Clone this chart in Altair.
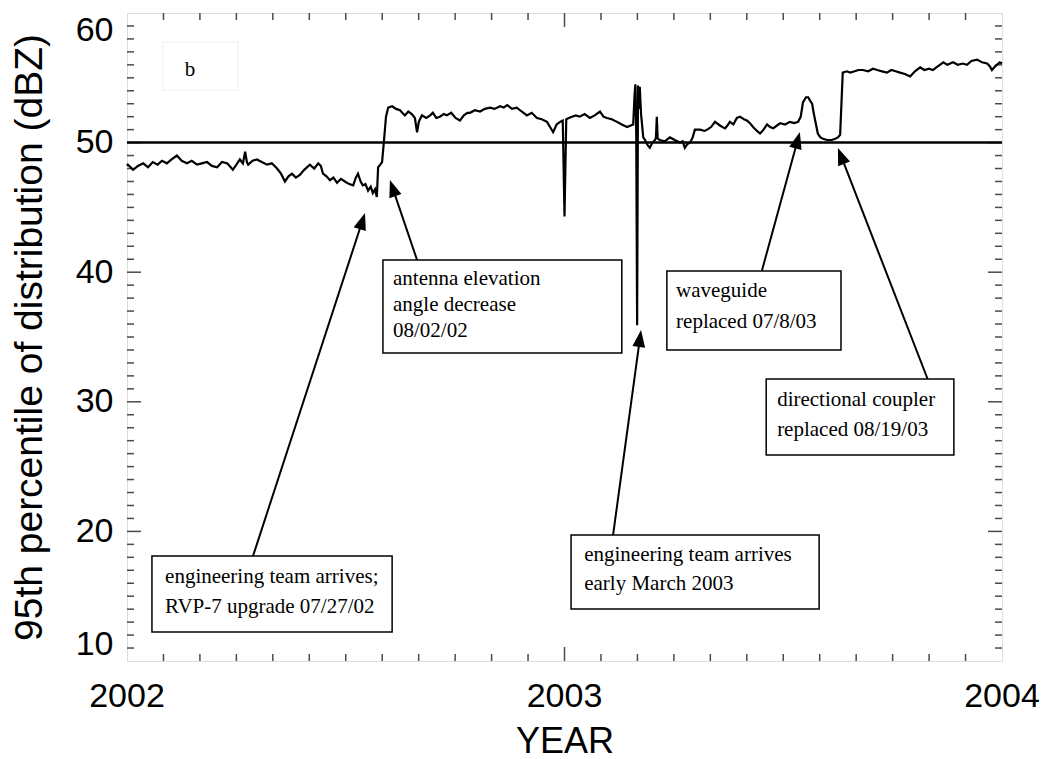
import math
import altair as alt
import pandas as pd

# ---------------- data ----------------
years = [2002.000, 2002.002, 2002.014, 2002.025, 2002.037, 2002.048, 2002.059, 2002.070, 2002.080, 2002.091,
         2002.102, 2002.114, 2002.125, 2002.137, 2002.148, 2002.160, 2002.171, 2002.183, 2002.194, 2002.206,
         2002.217, 2002.229, 2002.242, 2002.250, 2002.258, 2002.265, 2002.270, 2002.274, 2002.277, 2002.287,
         2002.297, 2002.308, 2002.320, 2002.331, 2002.343, 2002.352, 2002.361, 2002.369, 2002.377, 2002.386,
         2002.395, 2002.405, 2002.418, 2002.428, 2002.437, 2002.443, 2002.448, 2002.456, 2002.464, 2002.472,
         2002.480, 2002.489, 2002.498, 2002.508, 2002.517, 2002.523, 2002.528, 2002.534, 2002.539, 2002.545,
         2002.551, 2002.557, 2002.562, 2002.567, 2002.571, 2002.574, 2002.579, 2002.583, 2002.587, 2002.592,
         2002.597, 2002.606, 2002.615, 2002.624, 2002.635, 2002.643, 2002.651, 2002.658, 2002.663, 2002.667,
         2002.674, 2002.684, 2002.693, 2002.699, 2002.707, 2002.715, 2002.724, 2002.731, 2002.741, 2002.751,
         2002.761, 2002.770, 2002.778, 2002.784, 2002.795, 2002.807, 2002.818, 2002.830, 2002.840, 2002.853,
         2002.861, 2002.869, 2002.880, 2002.891, 2002.902, 2002.914, 2002.925, 2002.937, 2002.948, 2002.960,
         2002.967, 2002.974, 2002.982, 2002.990, 2002.996, 2003.000, 2003.004, 2003.010, 2003.017, 2003.026,
         2003.035, 2003.046, 2003.058, 2003.069, 2003.081, 2003.089, 2003.097, 2003.108, 2003.120, 2003.131,
         2003.143, 2003.150, 2003.157, 2003.160, 2003.162, 2003.164, 2003.166, 2003.168, 2003.170, 2003.172,
         2003.175, 2003.180, 2003.184, 2003.190, 2003.195, 2003.201, 2003.207, 2003.209, 2003.211, 2003.213,
         2003.218, 2003.229, 2003.241, 2003.252, 2003.264, 2003.270, 2003.275, 2003.281, 2003.287, 2003.293,
         2003.298, 2003.310, 2003.320, 2003.326, 2003.335, 2003.344, 2003.356, 2003.367, 2003.372, 2003.378,
         2003.386, 2003.394, 2003.401, 2003.410, 2003.417, 2003.424, 2003.431, 2003.440, 2003.447, 2003.455,
         2003.463, 2003.470, 2003.477, 2003.485, 2003.493, 2003.504, 2003.515, 2003.525, 2003.534, 2003.540,
         2003.545, 2003.552, 2003.557, 2003.562, 2003.566, 2003.570, 2003.573, 2003.579, 2003.585, 2003.591,
         2003.600, 2003.611, 2003.619, 2003.625, 2003.630, 2003.633, 2003.636, 2003.645, 2003.653, 2003.663,
         2003.672, 2003.682, 2003.694, 2003.705, 2003.715, 2003.726, 2003.737, 2003.747, 2003.757, 2003.767,
         2003.778, 2003.790, 2003.801, 2003.813, 2003.823, 2003.833, 2003.842, 2003.850, 2003.858, 2003.866,
         2003.875, 2003.888, 2003.899, 2003.910, 2003.920, 2003.930, 2003.943, 2003.954, 2003.966, 2003.972,
         2003.977, 2003.985, 2003.995, 2004.000]

dbz = [48.2, 48.3, 47.9, 48.2, 48.4, 48.1, 48.5, 48.3, 48.6, 48.4,
       48.7, 49.0, 48.6, 48.4, 48.6, 48.3, 48.4, 48.5, 48.2, 48.1,
       48.5, 48.4, 47.9, 48.3, 48.7, 48.4, 49.3, 48.5, 48.3, 48.6,
       48.7, 48.5, 48.3, 48.4, 48.0, 47.6, 47.0, 47.4, 47.6, 47.3,
       47.5, 47.9, 48.3, 48.0, 48.4, 48.2, 47.6, 47.4, 47.1, 47.3,
       46.9, 47.2, 47.0, 46.8, 46.7, 47.3, 47.6, 47.0, 46.7, 46.8,
       46.3, 46.6, 46.1, 46.4, 45.8, 48.1, 48.3, 48.5, 50.0, 52.0,
       52.7, 52.8, 52.6, 52.5, 52.1, 52.4, 52.2, 51.9, 50.8, 51.6,
       52.1, 51.9, 52.1, 52.3, 51.9, 52.0, 52.2, 52.1, 52.3, 51.9,
       51.7, 52.1, 52.3, 52.3, 52.5, 52.4, 52.6, 52.7, 52.6, 52.8,
       52.7, 52.9, 52.6, 52.7, 52.4, 52.1, 52.3, 51.9, 51.8, 51.6,
       51.2, 50.8, 51.4, 51.6, 51.7, 44.3, 51.8, 51.9, 52.0, 52.1,
       52.0, 52.2, 51.9, 52.1, 52.4, 52.0, 51.9, 51.8, 51.6, 51.4,
       51.2, 51.3, 51.4, 53.6, 54.5, 50.5, 35.9, 54.4, 52.6, 54.3,
       52.2, 50.4, 50.2, 49.8, 49.6, 50.0, 50.2, 50.4, 52.0, 50.3,
       50.2, 50.1, 50.4, 50.2, 50.0, 50.1, 49.6, 49.9, 50.0, 50.4,
       51.0, 51.0, 50.9, 51.0, 51.2, 51.6, 51.3, 51.1, 51.3, 51.6,
       51.4, 51.9, 52.0, 51.8, 51.7, 51.5, 51.2, 50.9, 50.7, 51.0,
       51.4, 51.2, 51.1, 51.3, 51.5, 51.4, 51.6, 51.5, 51.6, 52.0,
       53.1, 53.5, 53.5, 53.2, 53.0, 52.2, 51.7, 50.7, 50.4, 50.3,
       50.2, 50.2, 50.3, 50.4, 50.6, 53.0, 55.4, 55.5, 55.4, 55.5,
       55.6, 55.6, 55.5, 55.7, 55.6, 55.5, 55.4, 55.6, 55.5, 55.4,
       55.3, 55.1, 55.5, 55.8, 55.6, 55.7, 55.6, 55.8, 56.0, 56.2,
       56.0, 56.2, 56.0, 56.1, 56.0, 56.3, 56.4, 56.2, 56.1, 55.9,
       55.6, 55.9, 56.2, 56.1]

reference_level = [50]

x_label_values = [2002, 2003, 2004]
x_label_text = ["2002", "2003", "2004"]
y_label_values = [10, 20, 30, 40, 50, 60]
x_major_ticks = [2003.0]
x_minor_ticks = [2002 + m / 12 for m in range(1, 24) if m != 12]
y_major_ticks = [20, 30, 40, 50]
y_minor_ticks = [v for v in range(11, 60) if v % 10 != 0]

# annotation boxes (data units)
box_left = [2002.057, 2002.585, 2003.234, 2003.461, 2003.015]
box_right = [2002.606, 2003.131, 2003.632, 2003.890, 2003.582]
box_top = [18.10, 40.94, 40.09, 31.76, 19.72]
box_bottom = [12.24, 33.77, 34.00, 25.90, 14.01]

text_lines = ["engineering team arrives;", "RVP-7 upgrade 07/27/02",
              "antenna elevation", "angle decrease", "08/02/02",
              "waveguide", "replaced 07/8/03",
              "directional coupler", "replaced 08/19/03",
              "engineering team arrives", "early March 2003"]
text_x = [2002.087, 2002.087,
          2002.608, 2002.608, 2002.608,
          2003.255, 2003.255,
          2003.486, 2003.486,
          2003.045, 2003.045]
text_y = [16.48, 14.17,
          39.48, 37.47, 35.46,
          38.55, 36.16,
          30.14, 27.82,
          18.18, 15.94]

arrow_tail_x = [2002.288, 2002.663, 2003.451, 2003.830, 2003.111]
arrow_tail_y = [18.10, 40.94, 40.09, 31.76, 19.72]
arrow_tip_x = [2002.544, 2002.601, 2003.538, 2003.625, 2003.175]
arrow_tip_y = [44.57, 47.11, 50.82, 49.58, 35.54]

panel_label = ["b"]
panel_label_x = [2002.144]
panel_label_y = [55.6]
panel_box = dict(left=[2002.082], right=[2002.254], top=[57.76], bottom=[54.06])

# ---------------- layout / style ----------------
W, H = 875, 648
X_DOMAIN = [2002, 2004]
Y_DOMAIN = [10, 60]
PX_PER_X = W / (X_DOMAIN[1] - X_DOMAIN[0])
PX_PER_Y = H / (Y_DOMAIN[1] - Y_DOMAIN[0])
HEAD_R = 8.5  # half length of arrowhead in px
FRAME = "#4a4a4a"

xs = alt.Scale(domain=X_DOMAIN, nice=False, zero=False)
ys = alt.Scale(domain=Y_DOMAIN, nice=False, zero=False)

xaxis = alt.Axis(values=x_label_values, title="YEAR", labels=False,
                 ticks=False, tickSize=0, domain=False, grid=False,
                 titleFont="Liberation Sans", titleFontSize=36, titleFontWeight="normal",
                 titleColor="black", titleBaseline="middle", titleY=80)
yaxis = alt.Axis(values=y_label_values, title="95th percentile of distribution (dBZ)",
                 labelFont="Liberation Sans", labelFontSize=34, labelColor="black",
                 labelPadding=14, labelFlush=True, labelOverlap=False,
                 ticks=False, tickSize=0, domain=False, grid=False,
                 titleFont="Liberation Sans", titleFontSize=39, titleFontWeight="normal",
                 titleColor="black", titleBaseline="middle", titleX=-98)

X = lambda f="year": alt.X(f"{f}:Q", scale=xs, axis=xaxis)
Y = lambda f="dbz": alt.Y(f"{f}:Q", scale=ys, axis=yaxis)

series = pd.DataFrame({"year": years, "dbz": dbz})
line = alt.Chart(series).mark_line(color="black", strokeWidth=2.2).encode(x=X(), y=Y())

ref = alt.Chart(pd.DataFrame({"dbz": reference_level})).mark_rule(
    color="black", strokeWidth=2.5).encode(y=Y())

# x tick labels, placed by the x scale below the frame
xlabels = alt.Chart(pd.DataFrame({"year": x_label_values, "label": x_label_text})).mark_text(
    align="center", baseline="middle", font="Liberation Sans", fontSize=34, color="black").encode(
    x=X(), y=alt.value(H + 36), text="label:N")

# ticks (inward, on all four sides)
def yticks(vals, length):
    d = pd.DataFrame({"dbz": vals})
    left = alt.Chart(d).mark_rule(color=FRAME, strokeWidth=1.5).encode(
        y=Y(), x=alt.value(0), x2=alt.value(length))
    right = alt.Chart(d).mark_rule(color=FRAME, strokeWidth=1.5).encode(
        y=Y(), x=alt.value(W - length), x2=alt.value(W))
    return [left, right]

def xticks(vals, length):
    d = pd.DataFrame({"year": vals})
    bottom = alt.Chart(d).mark_rule(color=FRAME, strokeWidth=1.5).encode(
        x=X(), y=alt.value(H), y2=alt.value(H - length))
    top = alt.Chart(d).mark_rule(color=FRAME, strokeWidth=1.5).encode(
        x=X(), y=alt.value(0), y2=alt.value(length))
    return [bottom, top]

tick_layers = (yticks(y_minor_ticks, 7) + yticks(y_major_ticks, 14)
               + xticks(x_minor_ticks, 7) + xticks(x_major_ticks, 14))

# arrows
rows = []
for tx, ty, hx, hy in zip(arrow_tail_x, arrow_tail_y, arrow_tip_x, arrow_tip_y):
    dxs = (hx - tx) * PX_PER_X
    dys = -(hy - ty) * PX_PER_Y
    L = math.hypot(dxs, dys)
    ux, uy = dxs / L, dys / L
    ang = math.degrees(math.atan2(dxs, -dys)) % 360
    cx = hx - ux * HEAD_R / PX_PER_X
    cy = hy + uy * HEAD_R / PX_PER_Y
    rows.append(dict(year=tx, dbz=ty, year2=cx, dbz2=cy, angle=ang))
arrows_df = pd.DataFrame(rows)

shafts = alt.Chart(arrows_df).mark_rule(color="black", strokeWidth=2).encode(
    x=X(), y=Y(), x2="year2:Q", y2="dbz2:Q")
heads = alt.Chart(arrows_df).mark_point(
    shape="M0,-1L-0.75,1L0.75,1Z", filled=True, color="black", opacity=1,
    size=HEAD_R * HEAD_R * 4, strokeWidth=0).encode(
    x=X("year2"), y=Y("dbz2"), angle=alt.Angle("angle:Q", scale=None))

boxes = alt.Chart(pd.DataFrame({"year": box_left, "year2": box_right,
                                "dbz": box_top, "dbz2": box_bottom})).mark_rect(
    fill="white", stroke="black", strokeWidth=1.5).encode(
    x=X(), x2="year2:Q", y=Y(), y2="dbz2:Q")

texts = alt.Chart(pd.DataFrame({"year": text_x, "dbz": text_y, "label": text_lines})).mark_text(
    align="left", baseline="middle", font="Liberation Serif", fontSize=21, color="black").encode(
    x=X(), y=Y(), text="label:N")

pbox = alt.Chart(pd.DataFrame({"year": panel_box["left"], "year2": panel_box["right"],
                               "dbz": panel_box["top"], "dbz2": panel_box["bottom"]})).mark_rect(
    fill="white", stroke="#eeeeee", strokeWidth=1).encode(
    x=X(), x2="year2:Q", y=Y(), y2="dbz2:Q")
ptext = alt.Chart(pd.DataFrame({"year": panel_label_x, "dbz": panel_label_y, "label": panel_label})).mark_text(
    align="center", baseline="middle", font="Liberation Serif", fontSize=21, color="black").encode(
    x=X(), y=Y(), text="label:N")

chart = alt.layer(pbox, ptext, *tick_layers, ref, line, shafts, heads, boxes, texts, xlabels).properties(
    width=W, height=H,
    autosize=alt.AutoSizeParams(type="none"),
    padding={"left": 119, "top": 5, "right": 40, "bottom": 100},
).configure_view(stroke=FRAME, strokeWidth=2).configure(background="white")

chart.save("out.html", embed_options={"renderer": "svg", "actions": False})
